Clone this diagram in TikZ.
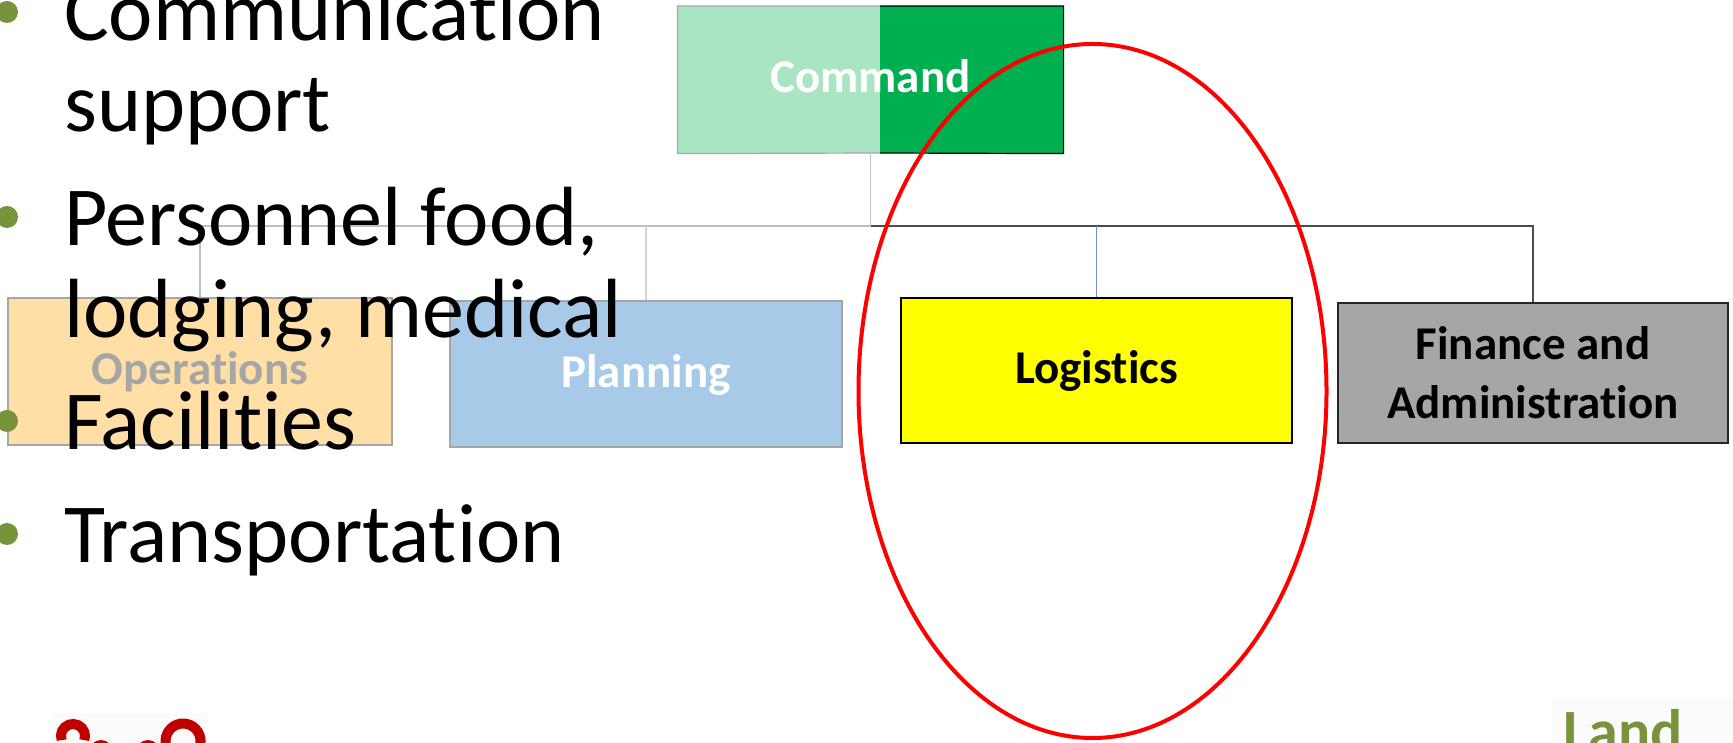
\documentclass[tikz,border=0pt]{standalone}
\usepackage{fontspec}
\setmainfont{Carlito}[Ligatures=NoCommon]
\usetikzlibrary{calc}

% keeps "t" and "i" as separate glyphs
\newcommand{\tisep}{t\kern0pt i}

\definecolor{cmdlight}{HTML}{A9E4C3}
\definecolor{cmdgreen}{HTML}{00AF50}
\definecolor{opsfill}{HTML}{FFDFA5}
\definecolor{planfill}{HTML}{A6CAE8}
\definecolor{logfill}{HTML}{FFFF00}
\definecolor{finfill}{HTML}{A6A6A6}
\definecolor{softgray}{HTML}{A6A6A6}
\definecolor{busgray}{HTML}{BFBFBF}
\definecolor{busdark}{HTML}{4D4D4D}
\definecolor{plandrop}{HTML}{C9D6EA}
\definecolor{logdrop}{HTML}{6F8FC0}
\definecolor{bulletgreen}{HTML}{77933C}
\definecolor{logored}{HTML}{C00000}
\definecolor{ringred}{HTML}{FF0000}

\tikzset{
  orgbox/.style={rectangle, inner sep=0pt, line width=1.2bp,
    font=\bfseries\fontsize{47bp}{59bp}\selectfont},
  oneline/.style={text height=35bp, text depth=8bp},
  bulletline/.style={anchor=base west, inner sep=0pt,
    font=\fontsize{84bp}{92bp}\selectfont},
  bulletdot/.style={circle, fill=bulletgreen, minimum size=22bp, inner sep=0pt},
  tie/.style={line width=1.5bp},
}

\begin{document}
\begin{tikzpicture}[x=1bp, y=1bp]
\useasboundingbox (0,0) rectangle (1733,743);
\clip (0,0) rectangle (1733,743);
\fill[white] (0,0) rectangle (1733,743);

% Command box: pale left part, solid green right part
\fill[cmdlight] (678,590) rectangle (880,737);
\fill[cmdgreen] (880,590) rectangle (1063,737);
\node[orgbox, oneline, minimum width=385bp, minimum height=147bp, text=white]
  (command) at (870.5,663.5) {Command};
\draw[softgray, line width=1.2bp] (880,737) -| (command.south west) -- (880,590);
\draw[black, line width=1.2bp] (880,737) -| (command.south east) -- (880,590);

% Sections
\node[orgbox, oneline, draw=softgray, fill=opsfill, text=softgray,
  minimum width=384bp, minimum height=147bp] (ops) at (200,371.5) {Opera\tisep ons};
\node[orgbox, oneline, draw=softgray, fill=planfill, text=white,
  minimum width=392bp, minimum height=146bp] (plan) at (646,369) {Planning};
\node[orgbox, oneline, draw=black, fill=logfill, text=black,
  minimum width=391bp, minimum height=145bp] (log) at (1096.5,372.5) {Logis\tisep cs};
\node[orgbox, draw=black!85, fill=finfill, text=black, align=center,
  minimum width=390bp, minimum height=140bp] (fin) at (1533,370)
  {Finance and\\Administra\tisep on};

% Connectors
\coordinate (hub) at (command.south |- 0,517);
\draw[tie, busgray] (command.south) -- (hub);
\draw[tie, busgray] (ops.north) |- (hub);
\draw[tie, busdark] (hub) -| (fin.north);
\draw[tie, plandrop] (plan.north) -- (plan.north |- hub);
\draw[tie, logdrop] (log.north) -- (log.north |- hub);

% Highlight ring
\draw[ringred, line width=4bp] (1092.5,352) ellipse [x radius=234bp, y radius=347bp];

% Bullet list
\node[bulletdot] (d1) at (7,731) {};
\node[bulletline] (t1) at (64,702) {Communica\tisep on};
\node[bulletline] (t2) at (64,611) {support};
\node[bulletdot] (d2) at (7,526) {};
\node[bulletline] (t3) at (64,497) {Personnel food,};
\node[bulletline] (t4) at (64,405) {lodging, medical};
\node[bulletdot] (d3) at (7,322) {};
\node[bulletline] (t5) at (64,293) {Facili\tisep es};
\node[bulletdot] (d4) at (7,209) {};
\node[bulletline] (t6) at (64,180) {Transporta\tisep on};

% Logo at lower left
\fill[white!97!gray] (52,0) rectangle (207,30);
\draw[logored, line width=10bp] (61.7,2.9) arc[start angle=200, end angle=-20, radius=12bp];
\draw[logored, line width=10bp] (166.6,-4) arc[start angle=200, end angle=-20, radius=17.5bp];
\fill[logored] (101,-9) circle[radius=12bp];
\fill[logored] (148,-9) circle[radius=12bp];

% Lower right label
\fill[white!97!gray] (1553,0) rectangle (1733,45);
\node[anchor=base west, inner sep=0pt, text=bulletgreen,
  font=\bfseries\fontsize{60bp}{72bp}\selectfont] (land) at (1563,-9) {Land};
\end{tikzpicture}
\end{document}
